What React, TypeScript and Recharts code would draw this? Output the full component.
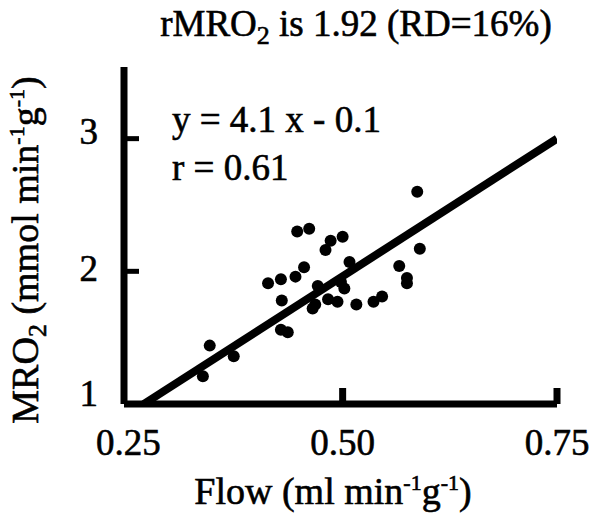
import { Scatter, ScatterChart, XAxis, YAxis } from "recharts";

// flow (ml/min/g) vs MRO2 (mmol/min/g)
const flow = [
  0.337, 0.345, 0.373, 0.413, 0.428, 0.445, 0.455, 0.429, 0.428, 0.436, 0.447,
  0.461, 0.48, 0.486, 0.5, 0.465, 0.468, 0.471, 0.483, 0.494, 0.498, 0.502,
  0.508, 0.516, 0.536, 0.546, 0.566, 0.575, 0.575, 0.587, 0.59,
];
const mro2 = [
  1.21, 1.44, 1.36, 1.91, 1.94, 1.96, 2.03, 1.78, 1.56, 1.54, 2.3,
  2.32, 2.16, 2.23, 2.26, 1.72, 1.75, 1.89, 1.79, 1.77, 1.92, 1.87,
  2.07, 1.75, 1.77, 1.81, 2.04, 1.95, 1.91, 2.6, 2.17,
];

// regression y = 4.1x - 0.1, end points as drawn
const fitFlow = [0.268, 0.75];
const fitMro2 = [1.0, 3.0];

const xTicks = [0.25, 0.5, 0.75];
const xTickLabels = ["0.25", "0.50", "0.75"];
const yTicks = [1, 2, 3];

const points = flow.map((x, i) => ({ x, y: mro2[i] }));
const fit = fitFlow.map((x, i) => ({ x, y: fitMro2[i] }));

const FONT = "'Liberation Serif', 'Times New Roman', serif";
// scanned look: glyphs are a bit heavy
const heavy = { stroke: "#000", strokeWidth: 0.6 };

function XTick(props: any) {
  const { x, y, payload, index } = props;
  return (
    <g>
      {index > 0 && (
        <line x1={x} x2={x} y1={y} y2={y - 16} stroke="#000" strokeWidth={7} />
      )}
      <text x={x} y={y + 51} textAnchor="middle" fontSize={37} fontFamily={FONT} fill="#000" {...heavy}>
        {xTickLabels[index] ?? payload.value}
      </text>
    </g>
  );
}

function YTick(props: any) {
  const { x, y, payload } = props;
  const v = payload.value;
  const shift = v === 1 ? -11 : v === 3 ? -7 : -3;
  return (
    <g>
      {v !== 1 && (
        <line x1={x} x2={x + 15} y1={y} y2={y} stroke="#000" strokeWidth={5} />
      )}
      <text
        x={x - 26}
        y={y + shift}
        textAnchor="end"
        dominantBaseline="central"
        fontSize={37}
        fontFamily={FONT}
        fill="#000"
        {...heavy}
      >
        {v}
      </text>
    </g>
  );
}

export default function App() {
  return (
    <div style={{ position: "absolute", left: 0, top: 0, width: 600, height: 521, background: "#fff" }}>
      <ScatterChart width={600} height={521} margin={{ top: 67, right: 43, bottom: 0, left: 0 }}>
        <XAxis
          type="number"
          dataKey="x"
          domain={[0.245, 0.75]}
          ticks={xTicks}
          allowDataOverflow
          height={117}
          tickSize={0}
          tickMargin={0}
          tickLine={false}
          axisLine={{ stroke: "#000", strokeWidth: 7 }}
          tick={<XTick />}
        />
        <YAxis
          type="number"
          dataKey="y"
          domain={[1, 3.54]}
          ticks={yTicks}
          allowDataOverflow
          width={124}
          tickSize={0}
          tickMargin={0}
          tickLine={false}
          axisLine={{ stroke: "#000", strokeWidth: 7 }}
          tick={<YTick />}
        />
        <Scatter
          data={fit}
          line={{ stroke: "#000", strokeWidth: 8 }}
          shape={() => null}
          isAnimationActive={false}
        />
        <Scatter
          data={points}
          fill="#000"
          shape={(p: any) => <circle cx={p.cx} cy={p.cy} r={6} fill="#000" />}
          isAnimationActive={false}
        />
      </ScatterChart>
      <svg
        width={600}
        height={521}
        style={{ position: "absolute", left: 0, top: 0, pointerEvents: "none" }}
        fontFamily={FONT}
        fill="#000"
        {...heavy}
      >
        <text x={356} y={36} textAnchor="middle" fontSize={37}>
          rMRO<tspan dy={8} fontSize={26}>2</tspan>
          <tspan dy={-8}> is 1.92 (RD=16%)</tspan>
        </text>
        <text x={172} y={132} fontSize={37}>
          y = 4.1 x - 0.1
        </text>
        <text x={172} y={180} fontSize={37}>
          r = 0.61
        </text>
        <text x={333} y={504} textAnchor="middle" fontSize={38}>
          Flow (ml min<tspan dy={-14} fontSize={22}>-1</tspan>
          <tspan dy={14}>g</tspan>
          <tspan dy={-14} fontSize={22}>-1</tspan>
          <tspan dy={14}>)</tspan>
        </text>
        <text
          x={0}
          y={0}
          transform="translate(38 250) rotate(-90)"
          textAnchor="middle"
          fontSize={38}
        >
          MRO<tspan dy={8} fontSize={26}>2</tspan>
          <tspan dy={-8}> (mmol min</tspan>
          <tspan dy={-14} fontSize={22}>-1</tspan>
          <tspan dy={14}>g</tspan>
          <tspan dy={-14} fontSize={22}>-1</tspan>
          <tspan dy={14}>)</tspan>
        </text>
      </svg>
    </div>
  );
}
